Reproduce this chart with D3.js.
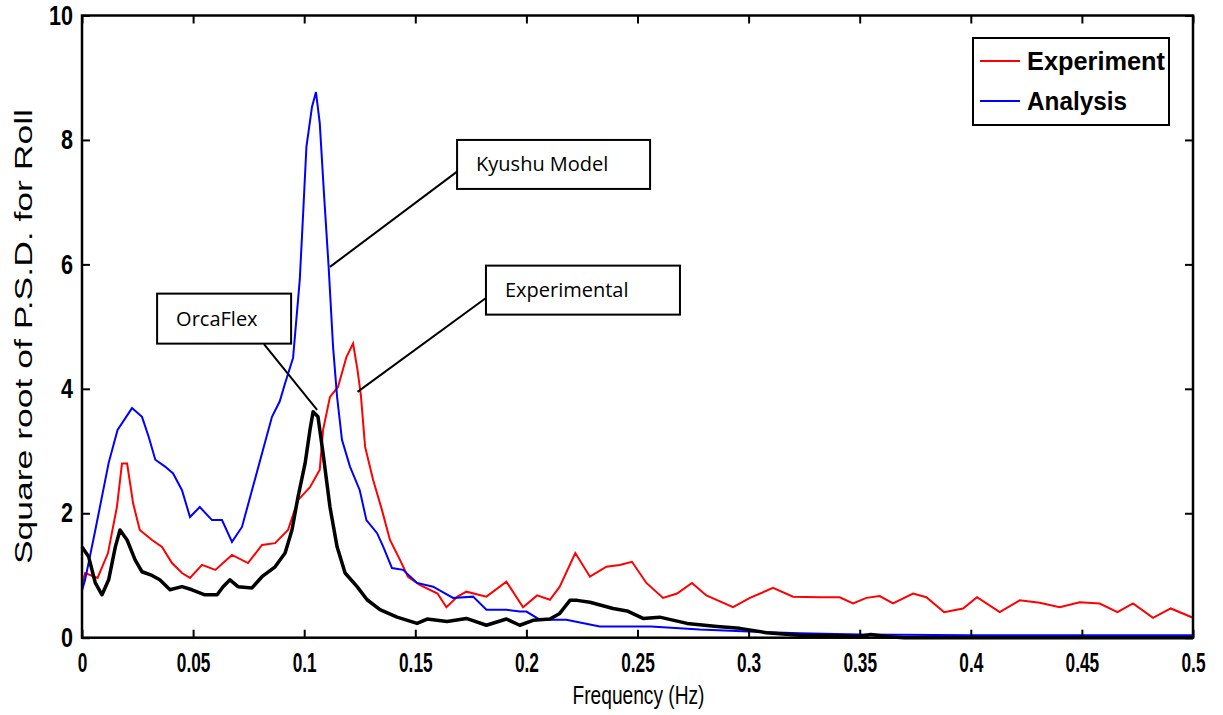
<!DOCTYPE html>
<html><head><meta charset="utf-8">
<script src="https://cdn.jsdelivr.net/npm/d3@7"></script>
<style>body{margin:0;background:#fff}svg{display:block}</style>
</head><body><svg id="c" width="1223" height="715"></svg>
<script>
const xTicks=[0,0.05,0.1,0.15,0.2,0.25,0.3,0.35,0.4,0.45,0.5];
const xTickLabels=["0","0.05","0.1","0.15","0.2","0.25","0.3","0.35","0.4","0.45","0.5"];
const yTicks=[0,2,4,6,8,10];
const yTickLabels=["0","2","4","6","8","10"];
const seriesNames=["Experiment","Analysis","OrcaFlex"];

const anaFreq=[0,0.0014,0.006,0.012,0.016,0.0225,0.027,0.030,0.033,0.0374,0.041,0.045,0.0486,0.053,0.0585,0.063,0.0675,0.072,0.0765,0.081,0.0855,0.089,0.0914,0.095,0.098,0.0995,0.101,0.1035,0.1053,0.107,0.109,0.111,0.113,0.1148,0.117,0.1206,0.125,0.128,0.1328,0.1356,0.1395,0.1445,0.1508,0.158,0.167,0.176,0.182,0.191,0.197,0.200,0.206,0.218,0.233,0.256,0.278,0.30,0.323,0.35,0.4,0.45,0.5];
const anaVal=[0.76,0.93,1.73,2.81,3.34,3.69,3.55,3.23,2.86,2.75,2.64,2.37,1.94,2.1,1.89,1.89,1.54,1.78,2.37,2.96,3.55,3.8,4.09,4.5,5.75,6.8,7.89,8.53,8.77,8.27,7.08,5.96,4.67,3.87,3.18,2.75,2.37,1.89,1.68,1.46,1.12,1.09,0.88,0.82,0.64,0.66,0.45,0.45,0.42,0.42,0.29,0.29,0.18,0.18,0.13,0.1,0.07,0.05,0.04,0.04,0.04];

const expFreq=[0,0.0014,0.007,0.0117,0.0157,0.018,0.0203,0.023,0.026,0.0315,0.036,0.0405,0.045,0.0486,0.054,0.06,0.0675,0.0747,0.081,0.0869,0.0927,0.0972,0.1026,0.107,0.1085,0.1116,0.1152,0.119,0.122,0.124,0.1255,0.1274,0.131,0.135,0.1386,0.1431,0.1467,0.152,0.16,0.164,0.169,0.173,0.182,0.191,0.1985,0.2048,0.2106,0.215,0.222,0.2286,0.236,0.242,0.2475,0.254,0.2615,0.2678,0.2745,0.281,0.293,0.3006,0.311,0.32,0.332,0.341,0.347,0.353,0.359,0.365,0.374,0.380,0.388,0.3965,0.4028,0.413,0.422,0.431,0.44,0.449,0.458,0.466,0.473,0.482,0.49,0.5];
const expVal=[0.85,1.04,0.96,1.36,2.1,2.8,2.8,2.16,1.73,1.57,1.46,1.2,1.04,0.96,1.17,1.09,1.33,1.2,1.49,1.52,1.73,2.21,2.42,2.7,3.34,3.87,4.03,4.51,4.73,4.3,3.9,3.07,2.54,2.05,1.57,1.25,0.98,0.85,0.71,0.49,0.66,0.74,0.66,0.9,0.49,0.68,0.61,0.82,1.36,0.98,1.14,1.17,1.22,0.88,0.64,0.71,0.88,0.68,0.49,0.64,0.8,0.66,0.65,0.65,0.55,0.64,0.67,0.55,0.71,0.65,0.41,0.47,0.65,0.41,0.6,0.56,0.49,0.57,0.55,0.41,0.55,0.32,0.47,0.32];

const orcaFreq=[0,0.003,0.006,0.009,0.012,0.015,0.0171,0.0203,0.0239,0.027,0.0315,0.035,0.0396,0.045,0.0495,0.0553,0.0608,0.0635,0.0666,0.0702,0.0765,0.081,0.0869,0.0914,0.0945,0.0972,0.1004,0.1026,0.104,0.1062,0.1085,0.1116,0.1148,0.1184,0.1238,0.1283,0.1341,0.1418,0.1508,0.1553,0.1643,0.173,0.182,0.191,0.197,0.203,0.2106,0.215,0.2196,0.2228,0.2286,0.239,0.2453,0.2525,0.26,0.2723,0.2858,0.296,0.308,0.323,0.34,0.35,0.355,0.362,0.37,0.5];
const orcaVal=[1.46,1.3,0.88,0.69,0.93,1.46,1.73,1.57,1.25,1.06,1.0,0.93,0.77,0.82,0.77,0.69,0.69,0.82,0.93,0.82,0.8,0.98,1.14,1.36,1.73,2.26,2.8,3.34,3.63,3.55,2.96,2.1,1.46,1.04,0.82,0.61,0.45,0.33,0.23,0.3,0.26,0.31,0.2,0.3,0.2,0.28,0.3,0.39,0.6,0.6,0.57,0.47,0.43,0.31,0.33,0.23,0.18,0.15,0.08,0.04,0.03,0.02,0.05,0.02,0.0,0.0];

// annotations: label, box top-left (data), leader start (data), leader target (data)
const annLabels=["Kyushu Model","Experimental","OrcaFlex"];
const annBox=[[0.1688,8.0],[0.1818,5.98],[0.0338,5.53]];
const annBoxSize=[[193,49],[194,49],[134,50]];
const annFrom=[[0.1688,7.49],[0.1818,5.46],[0.0819,4.72]];
const annTo=[[0.1116,5.96],[0.124,3.95],[0.1058,3.66]];

const svg=d3.select("#c");
const x=d3.scaleLinear().domain([0,0.5]).range([82,1193]);
const y=d3.scaleLinear().domain([0,10]).range([637.7,15.5]);
const font="Liberation Sans, Arial, sans-serif";

const line=d3.line().x(d=>x(d[0])).y(d=>y(d[1]));
const zip=(a,b)=>a.map((v,i)=>[v,b[i]]);

// series
svg.append("path").datum(zip(expFreq,expVal)).attr("d",line).attr("fill","none").attr("stroke","#ff0000").attr("stroke-width",2);
svg.append("path").datum(zip(anaFreq,anaVal)).attr("d",line).attr("fill","none").attr("stroke","#0000ff").attr("stroke-width",2);
svg.append("path").datum(zip(orcaFreq,orcaVal)).attr("d",line).attr("fill","none").attr("stroke","#000").attr("stroke-width",3.5).attr("stroke-linejoin","round");

// frame
svg.append("rect").attr("x",x(0)).attr("y",y(10)).attr("width",x(0.5)-x(0)).attr("height",y(0)-y(10)).attr("fill","none").attr("stroke","#000").attr("stroke-width",2.5);

// axes with inward ticks
const gx=svg.append("g").attr("transform",`translate(0,${y(0)})`)
 .call(d3.axisBottom(x).tickValues(xTicks).tickFormat((d,i)=>xTickLabels[i]).tickSizeInner(-8).tickSizeOuter(0).tickPadding(15));
const gxt=svg.append("g").attr("transform",`translate(0,${y(10)})`)
 .call(d3.axisTop(x).tickValues(xTicks).tickFormat("").tickSizeInner(-8).tickSizeOuter(0));
const gy=svg.append("g").attr("transform",`translate(${x(0)},0)`)
 .call(d3.axisLeft(y).tickValues(yTicks).tickFormat((d,i)=>yTickLabels[i]).tickSizeInner(-8).tickSizeOuter(0).tickPadding(9));
const gyr=svg.append("g").attr("transform",`translate(${x(0.5)},0)`)
 .call(d3.axisRight(y).tickValues(yTicks).tickFormat("").tickSizeInner(-8).tickSizeOuter(0));
[gx,gxt,gy,gyr].forEach(g=>{g.select(".domain").remove();g.selectAll(".tick line").attr("stroke","#000").attr("stroke-width",2);});
gx.selectAll(".tick text").attr("font-family",font).attr("font-size",27).attr("font-weight","bold").attr("fill","#000")
  .each(function(){const w=this.getComputedTextLength();d3.select(this).attr("textLength",w*0.64).attr("lengthAdjust","spacingAndGlyphs");});
gy.selectAll(".tick text").attr("font-family",font).attr("font-size",27).attr("font-weight","bold").attr("fill","#000")
  .each(function(){const w=this.getComputedTextLength();d3.select(this).attr("textLength",w*0.8).attr("lengthAdjust","spacingAndGlyphs");});

// axis titles
svg.append("text").attr("x",(x(0)+x(0.5))/2+1).attr("y",704).attr("text-anchor","middle")
 .attr("font-family",font).attr("font-size",25).attr("fill","#000")
 .attr("textLength",132).attr("lengthAdjust","spacingAndGlyphs").text("Frequency (Hz)");
svg.append("text").attr("transform",`translate(32,${(y(0)+y(10))/2+10}) rotate(-90)`).attr("text-anchor","middle")
 .attr("font-family",font).attr("font-size",23).attr("fill","#000")
 .attr("textLength",455).attr("lengthAdjust","spacingAndGlyphs").text("Square root of P.S.D. for Roll");

// legend
const lg=svg.append("g");
lg.append("rect").attr("x",973).attr("y",38).attr("width",196).attr("height",87).attr("fill","#fff").attr("stroke","#000").attr("stroke-width",2);
const legColors=["#ff0000","#0000ff"];
const legLen=[138,100];
[0,1].forEach(i=>{
  const ly=61+i*40;
  lg.append("line").attr("x1",980).attr("x2",1020).attr("y1",ly).attr("y2",ly).attr("stroke",legColors[i]).attr("stroke-width",2);
  lg.append("text").attr("x",1027).attr("y",ly+9).attr("font-family",font).attr("font-size",26).attr("font-weight","bold").attr("fill","#000")
    .attr("textLength",legLen[i]).attr("lengthAdjust","spacingAndGlyphs").text(seriesNames[i]);
});

// annotations
const ag=svg.append("g");
annLabels.forEach((t,i)=>{
  ag.append("line").attr("x1",x(annFrom[i][0])).attr("y1",y(annFrom[i][1])).attr("x2",x(annTo[i][0])).attr("y2",y(annTo[i][1])).attr("stroke","#000").attr("stroke-width",2);
  const bx=x(annBox[i][0]), by=y(annBox[i][1]);
  ag.append("rect").attr("x",bx).attr("y",by).attr("width",annBoxSize[i][0]).attr("height",annBoxSize[i][1]).attr("fill","#fff").attr("stroke","#000").attr("stroke-width",2);
  ag.append("text").attr("x",bx+19).attr("y",by+annBoxSize[i][1]/2+7).attr("font-family","Open Sans, Carlito, sans-serif").attr("font-size",20).attr("fill","#000").text(t);
});
</script></body></html>
